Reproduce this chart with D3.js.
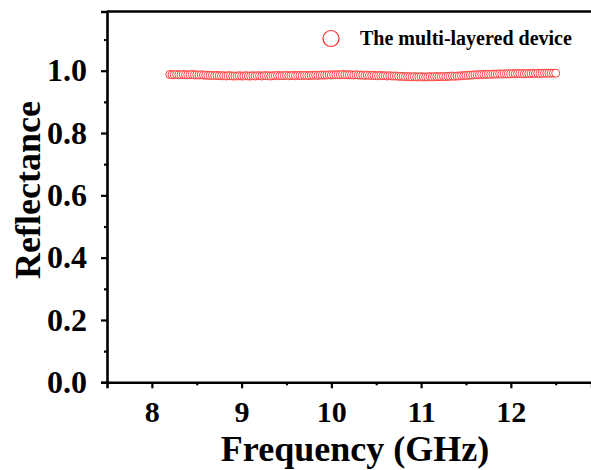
<!DOCTYPE html>
<meta charset="utf-8">
<style>
    body { margin: 0; background: #fff; }
    text { font-family: "Liberation Serif", "Times New Roman", serif; font-weight: bold; }
</style>

<svg width="591" height="470"></svg>
<script src="https://d3js.org/d3.v7.min.js"></script>
<script>

    // data
    var freq = [
        8.200, 8.225, 8.250, 8.275, 8.300, 8.325, 8.350, 8.375, 8.400, 8.425,
        8.450, 8.475, 8.500, 8.525, 8.550, 8.575, 8.600, 8.625, 8.650, 8.675,
        8.700, 8.725, 8.750, 8.775, 8.800, 8.825, 8.850, 8.875, 8.900, 8.925,
        8.950, 8.975, 9.000, 9.025, 9.050, 9.075, 9.100, 9.125, 9.150, 9.175,
        9.200, 9.225, 9.250, 9.275, 9.300, 9.325, 9.350, 9.375, 9.400, 9.425,
        9.450, 9.475, 9.500, 9.525, 9.550, 9.575, 9.600, 9.625, 9.650, 9.675,
        9.700, 9.725, 9.750, 9.775, 9.800, 9.825, 9.850, 9.875, 9.900, 9.925,
        9.950, 9.975, 10.000, 10.025, 10.050, 10.075, 10.100, 10.125, 10.150, 10.175,
        10.200, 10.225, 10.250, 10.275, 10.300, 10.325, 10.350, 10.375, 10.400, 10.425,
        10.450, 10.475, 10.500, 10.525, 10.550, 10.575, 10.600, 10.625, 10.650, 10.675,
        10.700, 10.725, 10.750, 10.775, 10.800, 10.825, 10.850, 10.875, 10.900, 10.925,
        10.950, 10.975, 11.000, 11.025, 11.050, 11.075, 11.100, 11.125, 11.150, 11.175,
        11.200, 11.225, 11.250, 11.275, 11.300, 11.325, 11.350, 11.375, 11.400, 11.425,
        11.450, 11.475, 11.500, 11.525, 11.550, 11.575, 11.600, 11.625, 11.650, 11.675,
        11.700, 11.725, 11.750, 11.775, 11.800, 11.825, 11.850, 11.875, 11.900, 11.925,
        11.950, 11.975, 12.000, 12.025, 12.050, 12.075, 12.100, 12.125, 12.150, 12.175,
        12.200, 12.225, 12.250, 12.275, 12.300, 12.325, 12.350, 12.375, 12.400, 12.425,
        12.450, 12.475, 12.500
    ];

    var reflectance = [
        0.988, 0.987, 0.987, 0.988, 0.987, 0.987, 0.988, 0.987, 0.987, 0.987,
        0.988, 0.987, 0.987, 0.986, 0.987, 0.986, 0.986, 0.985, 0.985, 0.985,
        0.984, 0.985, 0.984, 0.984, 0.984, 0.983, 0.984, 0.984, 0.983, 0.983,
        0.983, 0.984, 0.983, 0.983, 0.984, 0.983, 0.983, 0.984, 0.983, 0.984,
        0.984, 0.983, 0.984, 0.984, 0.984, 0.983, 0.984, 0.984, 0.985, 0.984,
        0.984, 0.984, 0.985, 0.984, 0.984, 0.985, 0.984, 0.985, 0.985, 0.984,
        0.985, 0.985, 0.984, 0.985, 0.985, 0.986, 0.985, 0.986, 0.986, 0.986,
        0.986, 0.987, 0.986, 0.987, 0.987, 0.987, 0.987, 0.988, 0.987, 0.987,
        0.987, 0.987, 0.986, 0.987, 0.986, 0.986, 0.986, 0.985, 0.986, 0.985,
        0.985, 0.985, 0.984, 0.984, 0.985, 0.984, 0.984, 0.983, 0.984, 0.983,
        0.983, 0.983, 0.982, 0.982, 0.982, 0.981, 0.981, 0.981, 0.980, 0.981,
        0.980, 0.980, 0.981, 0.980, 0.980, 0.980, 0.981, 0.980, 0.981, 0.981,
        0.981, 0.981, 0.982, 0.981, 0.982, 0.982, 0.983, 0.982, 0.983, 0.983,
        0.984, 0.984, 0.985, 0.985, 0.986, 0.986, 0.987, 0.987, 0.987, 0.988,
        0.988, 0.988, 0.989, 0.988, 0.989, 0.989, 0.989, 0.990, 0.989, 0.990,
        0.990, 0.990, 0.990, 0.991, 0.990, 0.991, 0.991, 0.991, 0.990, 0.991,
        0.991, 0.991, 0.992, 0.991, 0.992, 0.991, 0.992, 0.992, 0.992, 0.992,
        0.992, 0.992, 0.992
    ];

    var xTicks = [8, 9, 10, 11, 12];
    var xMinorTicks = [8.5, 9.5, 10.5, 11.5, 12.5];
    var yTicks = [0.0, 0.2, 0.4, 0.6, 0.8, 1.0];
    var yMinorTicks = [0.1, 0.3, 0.5, 0.7, 0.9, 1.1];
    var seriesName = "The multi-layered device";

    var svg = d3.select("svg");

    // plot box (right side runs off the picture, as in the figure)
    var plotLeft = 107, plotRight = 591.6, plotTop = 11.5, plotBottom = 382.3;

    var x = d3.scaleLinear().domain([7.5, 12.9]).range([plotLeft, plotRight]);
    var y = d3.scaleLinear().domain([0, 1.19]).range([plotBottom, plotTop]);

    var red = "#ff2a2a";

    // points
    svg.append("g")
        .selectAll("circle")
        .data(freq)
        .enter()
        .append("circle")
            .attr("cx", function(d) { return x(d); })
            .attr("cy", function(d, i) { return y(reflectance[i]); })
            .attr("r", 4)
            .attr("fill", "#fff")
            .attr("stroke", red)
            .attr("stroke-width", 0.9);

    // x axis
    var xAxis = svg.append("g")
        .attr("transform", "translate(0," + plotBottom + ")")
        .call(d3.axisBottom(x).tickValues(xTicks).tickSize(6).tickFormat(d3.format("d")));
    svg.append("g")
        .attr("transform", "translate(0," + plotBottom + ")")
        .call(d3.axisBottom(x).tickValues(xMinorTicks).tickSize(3).tickFormat(""))
        .select(".domain").remove();

    // y axis
    var yAxis = svg.append("g")
        .attr("transform", "translate(" + plotLeft + ",0)")
        .call(d3.axisLeft(y).tickValues(yTicks).tickSize(6).tickPadding(14).tickFormat(d3.format(".1f")));
    svg.append("g")
        .attr("transform", "translate(" + plotLeft + ",0)")
        .call(d3.axisLeft(y).tickValues(yMinorTicks).tickSize(3).tickFormat(""))
        .select(".domain").remove();

    svg.selectAll(".domain").attr("stroke", "#000").attr("stroke-width", 2.6);
    svg.selectAll(".tick line").attr("stroke", "#000").attr("stroke-width", 2.2);
    xAxis.selectAll(".tick text")
        .attr("font-size", 30).attr("fill", "#000")
        .attr("y", 39.4).attr("dy", 0);
    yAxis.selectAll(".tick text")
        .attr("font-size", 32).attr("fill", "#000");

    // top frame line
    svg.append("line")
        .attr("x1", plotLeft).attr("x2", plotRight)
        .attr("y1", plotTop).attr("y2", plotTop)
        .attr("stroke", "#000").attr("stroke-width", 2.6);

    // axis titles
    svg.append("text")
        .attr("x", 355).attr("y", 461)
        .attr("text-anchor", "middle")
        .attr("font-size", 36)
        .text("Frequency (GHz)");

    svg.append("text")
        .attr("transform", "translate(40,190) rotate(-90)")
        .attr("text-anchor", "middle")
        .attr("font-size", 36)
        .text("Reflectance");

    // legend
    svg.append("circle")
        .attr("cx", 331).attr("cy", 38.5).attr("r", 8)
        .attr("fill", "none").attr("stroke", red).attr("stroke-width", 1.2);
    svg.append("text")
        .attr("x", 360).attr("y", 45)
        .attr("font-size", 20)
        .text(seriesName);

</script>
